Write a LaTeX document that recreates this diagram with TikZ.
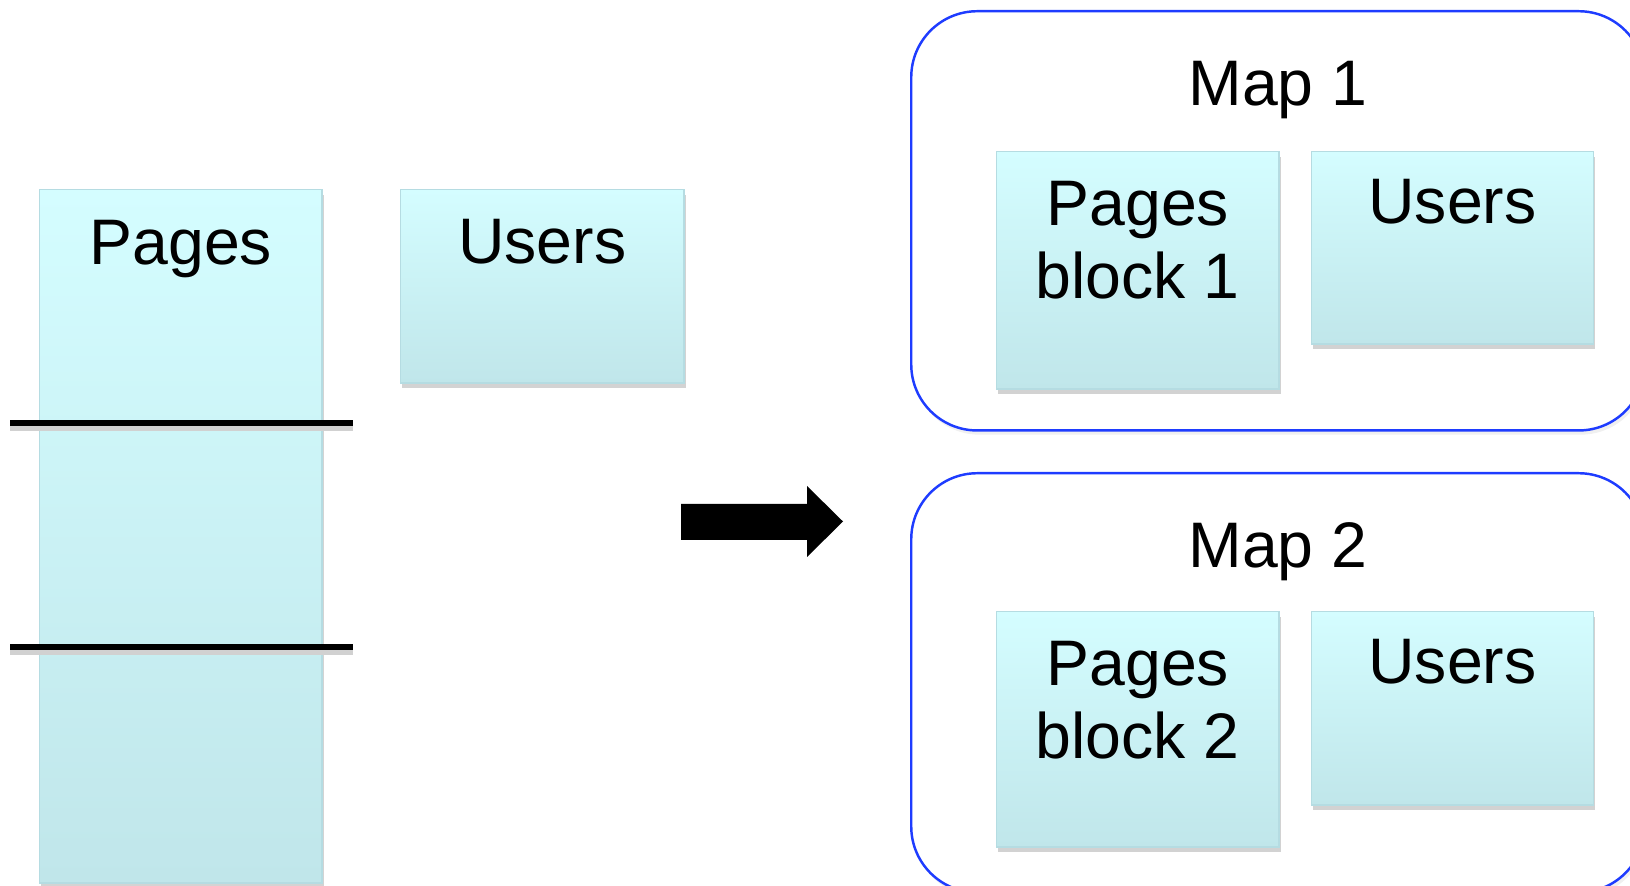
\documentclass[tikz,border=0pt]{standalone}
\usepackage{fontspec}
\setmainfont{Liberation Sans}
\usetikzlibrary{positioning,calc,shadows}

\definecolor{tbltop}{HTML}{D4FDFF}
\definecolor{tblbot}{HTML}{C0E6EA}
\definecolor{tbledge}{HTML}{B5DCE2}
\definecolor{mapblue}{HTML}{1E3CFF}

\begin{document}
\begin{tikzpicture}[
    x=0.01cm, y=-0.01cm,
    tag/.style={align=center, inner sep=0pt, font=\fontsize{18.3}{20.6}\selectfont},
    tbl/.style={draw=tbledge, line width=0.4pt, top color=tbltop, bottom color=tblbot,
      drop shadow={opacity=0.35, shadow xshift=0.5pt, shadow yshift=-1.4pt},
      inner sep=0pt, anchor=north west},
    mapbox/.style={draw=mapblue, line width=0.7pt, fill=white, rounded corners=0.66cm,
      drop shadow={opacity=0.12, shadow xshift=0.6pt, shadow yshift=-1.2pt},
      inner sep=0pt, anchor=north west, minimum width=7.33cm, minimum height=4.19cm},
    cut/.style={line width=1.9pt, preaction={draw=black!18, line width=2.6pt, transform canvas={yshift=-1pt}}}
  ]
  \path[use as bounding box] (0,0) rectangle (1630,886);
  \clip (0,0) rectangle (1630,886);

  % the two tables before the split
  \node (pages) at (39,189) [tbl, minimum width=2.82cm, minimum height=6.93cm] {};
  \node (pagestag) [tag, below=0.75cm of pages.north, anchor=base] {Pages};
  \node (users) at (400,189) [tbl, minimum width=2.83cm, minimum height=1.93cm] {};
  \node (userstag) [tag, below=0.74cm of users.north, anchor=base] {Users};

  \draw[cut] (10,423) -- (353,423);
  \draw[cut] (10,647) -- (353,647);

  % split arrow
  \fill (681,504) -- (807,504) -- (807,486) -- (843,521.5) -- (807,557) -- (807,540) -- (681,540) -- cycle;

  % map 1
  \node (map1) at (910,10) [mapbox] {};
  \node (map1tag) [tag, below=0.95cm of map1.north, anchor=base] {Map 1};
  \node (blk1) at (996,151) [tbl, minimum width=2.82cm, minimum height=2.37cm] {};
  \node (blk1tag) [tag, below=1.47cm of blk1.north, anchor=base] {Pages\\block 1};
  \node (users1) [tbl, right=0.31cm of blk1.north east, anchor=north west,
    minimum width=2.82cm, minimum height=1.92cm] {};
  \node (users1tag) [tag, below=0.72cm of users1.north, anchor=base] {Users};

  % map 2
  \node (map2) at (910,472) [mapbox] {};
  \node (map2tag) [tag, below=0.95cm of map2.north, anchor=base] {Map 2};
  \node (blk2) at (996,611) [tbl, minimum width=2.82cm, minimum height=2.35cm] {};
  \node (blk2tag) [tag, below=1.47cm of blk2.north, anchor=base] {Pages\\block 2};
  \node (users2) [tbl, right=0.31cm of blk2.north east, anchor=north west,
    minimum width=2.82cm, minimum height=1.93cm] {};
  \node (users2tag) [tag, below=0.72cm of users2.north, anchor=base] {Users};
\end{tikzpicture}
\end{document}
